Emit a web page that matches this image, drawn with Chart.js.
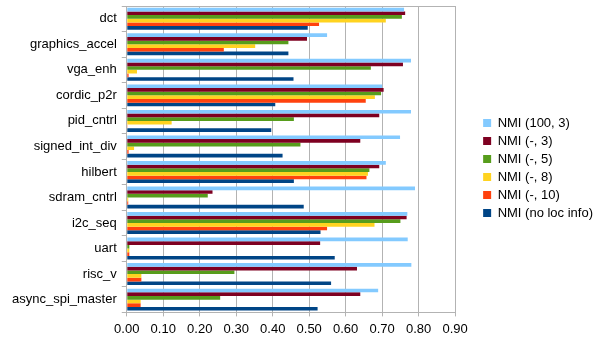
<!DOCTYPE html>
<html>
<head>
<meta charset="utf-8">
<script src="https://cdn.jsdelivr.net/npm/chart.js@4/dist/chart.umd.min.js"></script>
<style>
  html, body { margin: 0; padding: 0; background: #fff; }
  #wrap { width: 605px; height: 341px; }
</style>
</head>
<body>
<div id="wrap"><canvas id="nmiChart"></canvas></div>
<script>
const designs = ['dct', 'graphics_accel', 'vga_enh', 'cordic_p2r', 'pid_cntrl', 'signed_int_div',
    'hilbert', 'sdram_cntrl', 'i2c_seq', 'uart', 'risc_v', 'async_spi_master'];
const xTicks = [0, 0.1, 0.2, 0.3, 0.4, 0.5, 0.6, 0.7, 0.8, 0.9];

const nmi100_3 = [0.760, 0.549, 0.779, 0.700, 0.779, 0.749, 0.710, 0.790, 0.769, 0.770, 0.780, 0.689];
const nmi_3    = [0.763, 0.494, 0.757, 0.704, 0.692, 0.640, 0.692, 0.235, 0.767, 0.530, 0.631, 0.640];
const nmi_5    = [0.754, 0.443, 0.669, 0.697, 0.458, 0.476, 0.665, 0.222, 0.750, 0.007, 0.295, 0.256];
const nmi_8    = [0.710, 0.352, 0.028, 0.680, 0.123, 0.020, 0.661, 0.004, 0.679, 0.007, 0.040, 0.038];
const nmi_10   = [0.527, 0.266, 0.005, 0.655, 0.002, 0.005, 0.657, 0.004, 0.549, 0.007, 0.040, 0.038];
const nmiNoLoc = [0.496, 0.443, 0.457, 0.407, 0.396, 0.427, 0.458, 0.485, 0.531, 0.570, 0.560, 0.523];

const grey = '#b3b3b3';
const legendGap = 23;
const legendLift = 6;

// top border of the plot, LibreOffice style
const topBorder = {
    id: 'topBorder',
    afterDraw(chart) {
        const { ctx, chartArea } = chart;
        ctx.save();
        ctx.strokeStyle = grey;
        ctx.lineWidth = 1;
        ctx.beginPath();
        ctx.moveTo(chartArea.left, Math.round(chartArea.top) + 0.5);
        ctx.lineTo(chartArea.right, Math.round(chartArea.top) + 0.5);
        ctx.stroke();
        ctx.restore();
    }
};

// leave some empty space between the plot and the legend
const legendSpacer = {
    id: 'legendSpacer',
    afterInit(chart) {
        const lg = chart.legend;
        if (!lg) return;
        const fit = lg.fit.bind(lg);
        const draw = lg.draw.bind(lg);
        lg.fit = function () { fit(); this.width += legendGap; };
        lg.draw = function () {
            this.left += legendGap;
            this.top -= legendLift;
            this.bottom -= legendLift;
            draw();
            this.left -= legendGap;
            this.top += legendLift;
            this.bottom += legendLift;
        };
    }
};

function series(label, data, color) {
    return { label: label, data: data, backgroundColor: color, borderWidth: 0,
        categoryPercentage: 0.86, barPercentage: 1.0 };
}

new Chart(document.getElementById('nmiChart').getContext('2d'), {
    type: 'bar',
    data: {
        labels: designs,
        datasets: [
            series('NMI (100, 3)', nmi100_3, '#83caff'),
            series('NMI (-, 3)', nmi_3, '#7e0021'),
            series('NMI (-, 5)', nmi_5, '#579d1c'),
            series('NMI (-, 8)', nmi_8, '#ffd320'),
            series('NMI (-, 10)', nmi_10, '#ff420e'),
            series('NMI (no loc info)', nmiNoLoc, '#004586')
        ]
    },
    options: {
        indexAxis: 'y',
        responsive: true,
        maintainAspectRatio: false,
        animation: false,
        layout: { padding: { top: 6, right: 2, bottom: -1, left: 7 } },
        font: { family: 'Liberation Sans', size: 13 },
        plugins: {
            legend: {
                position: 'right',
                labels: {
                    color: '#000',
                    font: { family: 'Liberation Sans', size: 13 },
                    boxWidth: 8,
                    boxHeight: 8,
                    padding: 5
                }
            },
            tooltip: { enabled: false }
        },
        scales: {
            x: {
                min: 0,
                max: 0.9,
                afterBuildTicks(axis) { axis.ticks = xTicks.map(v => ({ value: v })); },
                ticks: {
                    color: '#000',
                    font: { family: 'Liberation Sans', size: 13 },
                    padding: 5,
                    callback: v => v.toFixed(2)
                },
                grid: { color: grey, tickLength: 4 },
                border: { color: grey }
            },
            y: {
                ticks: {
                    color: '#000',
                    font: { family: 'Liberation Sans', size: 13 },
                    padding: 5
                },
                grid: { color: grey, drawOnChartArea: false, tickLength: 5, offset: true },
                border: { color: grey },
                afterFit(scale) { scale.paddingTop = 0; scale.paddingBottom = 0; }
            }
        }
    },
    plugins: [topBorder, legendSpacer]
});
</script>
</body>
</html>
